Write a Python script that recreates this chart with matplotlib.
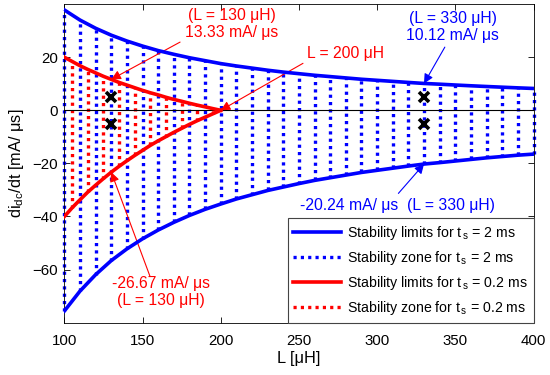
import numpy as np
import matplotlib
matplotlib.use('Agg')
import matplotlib.pyplot as plt

plt.rcParams['font.family'] = ['Liberation Sans', 'DejaVu Sans']
plt.rcParams['mathtext.fontset'] = 'custom'
plt.rcParams['mathtext.rm'] = 'Liberation Sans'
plt.rcParams['mathtext.it'] = 'Liberation Sans:italic'
plt.rcParams['font.size'] = 10

# stability limits for ts = 2 ms, read every 10 uH
L_blue = np.arange(100, 401, 10)
blue_up = [37.8, 34.0, 30.9, 28.3, 26.1, 24.2, 22.5, 21.1, 19.8, 18.7, 17.6,
           16.7, 15.9, 15.1, 14.4, 13.8, 13.2, 12.7, 12.2, 11.7, 11.3,
           10.9, 10.5, 10.12, 9.84, 9.53, 9.24, 8.97, 8.71, 8.46, 8.23]
blue_low = [-75.6, -68.1, -61.9, -56.6, -52.2, -48.4, -45.1, -42.2, -39.6, -37.3, -35.3,
            -33.4, -31.8, -30.2, -28.9, -27.6, -26.4, -25.4, -24.4, -23.4, -22.6,
            -21.8, -21.0, -20.24, -19.7, -19.1, -18.5, -17.9, -17.4, -16.9, -16.5]

# stability limits for ts = 0.2 ms, read every 5 uH
L_red = np.arange(100, 201, 5)
red_up = [20.0, 18.4, 16.8, 15.4, 14.1, 12.8, 11.65, 10.5, 9.5, 8.5, 7.5,
          6.6, 5.8, 4.9, 4.1, 3.4, 2.65, 1.95, 1.3, 0.63, 0.0]
red_low = [-40.0, -36.7, -33.7, -30.8, -28.2, -25.7, -23.3, -21.1, -19.0, -17.0, -15.1,
           -13.2, -11.5, -9.9, -8.3, -6.8, -5.3, -3.9, -2.6, -1.3, 0.0]

# operating points
op_L = [130, 130, 330, 330]
op_y = [5, -5, 5, -5]

fig = plt.figure(figsize=(5.5, 3.75), dpi=100)
ax = fig.add_axes([0.117, 0.1395, 0.853, 0.8495])

dots = (0, (0.95, 1.25))

# stability zones (dotted verticals)
ax.vlines(L_blue, blue_low, blue_up, colors='#0000ff', linewidth=2.4, linestyles=[dots],
          zorder=2, clip_on=False)
zone_L = L_red[1::2]
ax.vlines(zone_L, np.array(red_low)[1::2], np.array(red_up)[1::2], colors='#ff0000',
          linewidth=2.4, linestyles=[dots], zorder=2)

ax.axhline(0, color='black', linewidth=0.8, zorder=3)

ax.plot(L_blue, blue_up, color='#0000ff', linewidth=2.6, zorder=4)
ax.plot(L_blue, blue_low, color='#0000ff', linewidth=2.6, zorder=4)
ax.plot(L_red, red_up, color='#ff0000', linewidth=2.6, zorder=4)
ax.plot(L_red, red_low, color='#ff0000', linewidth=2.6, zorder=4)

ax.plot(op_L, op_y, linestyle='none', marker='x', color='black',
        markersize=6.5, markeredgewidth=2.6, zorder=5)

# annotations
arr_r = dict(arrowstyle='-|>', color='#ff0000', lw=0.8, mutation_scale=14, shrinkA=0, shrinkB=0)
arr_b = dict(arrowstyle='-|>', color='#0000ff', lw=0.8, mutation_scale=14, shrinkA=0, shrinkB=0)
fs_ann = 11.3

ax.annotate('', xy=(L_red[6], red_up[6]), xytext=(174, 25.7), arrowprops=arr_r)
ax.text(207, 32.4, '(L = 130 μH)\n13.33 mA/ μs', color='#ff0000', ha='center', va='center',
        linespacing=1.15, fontsize=fs_ann)

ax.annotate('', xy=(L_red[-1], red_up[-1]), xytext=(252.6, 17.7), arrowprops=arr_r)
ax.text(280, 21.4, 'L = 200 μH', color='#ff0000', ha='center', va='center', fontsize=fs_ann)

ax.annotate('', xy=(L_blue[23], blue_up[23]), xytext=(343.3, 23.8), arrowprops=arr_b)
ax.text(348.3, 31.3, '(L = 330 μH)\n10.12 mA/ μs', color='#0000ff', ha='center', va='center',
        linespacing=1.15, fontsize=fs_ann)

ax.annotate('', xy=(L_blue[23], blue_low[23]), xytext=(313.6, -31.3), arrowprops=arr_b)
ax.text(313, -35.7, '-20.24 mA/ μs  (L = 330 μH)', color='#0000ff', ha='center', va='center',
        fontsize=fs_ann)

ax.annotate('', xy=(L_red[6], red_low[6]), xytext=(154.8, -62.6), arrowprops=arr_r)
ax.text(161.8, -68.5, '-26.67 mA/ μs\n(L = 130 μH)', color='#ff0000', ha='center', va='center',
        linespacing=1.15, fontsize=fs_ann)

ax.set_xlim(100, 400)
ax.set_ylim(-80, 40)
ax.set_xticks([100, 150, 200, 250, 300, 350, 400])
ax.set_yticks([-60, -40, -20, 0, 20])
ax.tick_params(direction='in', top=True, right=True, length=4, width=0.6, labelsize=10.8)
ax.tick_params(axis='x', pad=8)
ax.tick_params(axis='y', pad=4.5)
for s in ax.spines.values():
    s.set_linewidth(0.6)
ax.set_xlabel('L [μH]', fontsize=11.8, labelpad=2)
ax.set_ylabel('di$_{\\rm dc}$/dt [mA/ μs]', fontsize=11.8, labelpad=5)

# legend
h1, = ax.plot([], [], color='#0000ff', linewidth=2.6)
h2, = ax.plot([], [], color='#0000ff', linewidth=2.4, linestyle=dots)
h3, = ax.plot([], [], color='#ff0000', linewidth=2.6)
h4, = ax.plot([], [], color='#ff0000', linewidth=2.4, linestyle=dots)
leg = ax.legend([h1, h2, h3, h4],
                ['Stability limits for t$_{\\rm \\,s}$ = 2 ms',
                 'Stability zone for t$_{\\rm \\,s}$ = 2 ms',
                 'Stability limits for t$_{\\rm \\,s}$ = 0.2 ms',
                 'Stability zone for t$_{\\rm \\,s}$ = 0.2 ms'],
                loc='lower right', bbox_to_anchor=(1.0, 0.0), fontsize=10.2,
                frameon=True, fancybox=False, edgecolor='#444444', framealpha=1,
                handlelength=3.4, handletextpad=0.4, labelspacing=0.5,
                borderpad=0.4, borderaxespad=0)
leg.get_frame().set_linewidth(0.8)

fig.savefig('out.png', dpi=100)
